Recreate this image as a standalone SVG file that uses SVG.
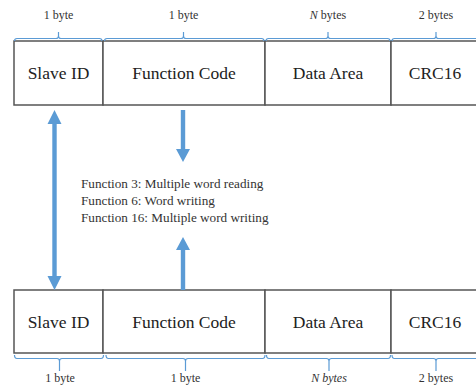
<svg xmlns="http://www.w3.org/2000/svg" width="476" height="385" viewBox="0 0 476 385">
<style>
.cell{fill:#fff;stroke:#555;stroke-width:1.5}
.ct{font-family:"Liberation Serif","Times New Roman",serif;font-size:17.5px;fill:#222;text-anchor:middle}
.lb{font-family:"Liberation Serif","Times New Roman",serif;font-size:12px;fill:#333;text-anchor:middle}
.fn{font-family:"Liberation Serif","Times New Roman",serif;font-size:13.2px;fill:#333}
.br{fill:none;stroke:#5b9bd5;stroke-width:1.2}
.ar{fill:#5b9bd5}
</style>
<rect width="476" height="385" fill="#fff"/>
<g id="top-frame">
<g id="top-slave"><rect class="cell" x="14" y="41" width="89" height="64"/><text class="ct" x="58.5" y="79">Slave ID</text></g>
<g id="top-func"><rect class="cell" x="103" y="41" width="162" height="64"/><text class="ct" x="184" y="79">Function Code</text></g>
<g id="top-data"><rect class="cell" x="265" y="41" width="126" height="64"/><text class="ct" x="328" y="79">Data Area</text></g>
<g id="top-crc"><rect class="cell" x="391" y="41" width="100" height="64"/><text class="ct" x="435" y="79">CRC16</text></g>
</g>
<g id="top-braces">
<path class="br" d="M14.5,41 Q14.5,38.5 17,38.5 H56 Q58.5,38.5 58.5,36 V32 M58.5,36 Q58.5,38.5 61,38.5 H99.5 Q102,38.5 102,41"/>
<path class="br" d="M104.5,41 Q104.5,38.5 107,38.5 H181 Q183.5,38.5 183.5,36 V32 M183.5,36 Q183.5,38.5 186,38.5 H261.5 Q264,38.5 264,41"/>
<path class="br" d="M266,41 Q266,38.5 268.5,38.5 H325.5 Q328,38.5 328,36 V32 M328,36 Q328,38.5 330.5,38.5 H387.5 Q390,38.5 390,41"/>
<path class="br" d="M392,41 Q392,38.5 394.5,38.5 H433.5 Q436,38.5 436,36 V32 M436,36 Q436,38.5 438.5,38.5 H480"/>
<text class="lb" x="58.5" y="19">1 byte</text>
<text class="lb" x="183.5" y="19">1 byte</text>
<text class="lb" x="328" y="19"><tspan font-style="italic">N</tspan> bytes</text>
<text class="lb" x="436" y="19">2 bytes</text>
</g>
<g id="bottom-frame">
<g id="bot-slave"><rect class="cell" x="14" y="290" width="89" height="63"/><text class="ct" x="58.5" y="328">Slave ID</text></g>
<g id="bot-func"><rect class="cell" x="103" y="290" width="162" height="63"/><text class="ct" x="184" y="328">Function Code</text></g>
<g id="bot-data"><rect class="cell" x="265" y="290" width="126" height="63"/><text class="ct" x="328" y="328">Data Area</text></g>
<g id="bot-crc"><rect class="cell" x="391" y="290" width="100" height="63"/><text class="ct" x="435" y="328">CRC16</text></g>
</g>
<g id="bottom-braces">
<path class="br" d="M14.5,355 Q14.5,358.5 17,358.5 H57 Q59.5,358.5 59.5,361 V371 M59.5,361 Q59.5,358.5 62,358.5 H101 Q103.5,358.5 103.5,355"/>
<path class="br" d="M106,355 Q106,358.5 108.5,358.5 H183 Q185.5,358.5 185.5,361 V371 M185.5,361 Q185.5,358.5 188,358.5 H262.5 Q265,358.5 265,355"/>
<path class="br" d="M266.5,355 Q266.5,358.5 269,358.5 H326.5 Q329,358.5 329,361 V371 M329,361 Q329,358.5 331.5,358.5 H388 Q390.5,358.5 390.5,355"/>
<path class="br" d="M392,355 Q392,358.5 394.5,358.5 H433.5 Q436,358.5 436,361 V371 M436,361 Q436,358.5 438.5,358.5 H480"/>
<text class="lb" x="60" y="382">1 byte</text>
<text class="lb" x="185.5" y="382">1 byte</text>
<text class="lb" x="329" y="382" font-style="italic">N bytes</text>
<text class="lb" x="436" y="382">2 bytes</text>
</g>
<g id="connectors">
<path class="ar" d="M54.5,110 L61.5,124 H56.7 V276 H61.5 L54.5,290 L47.5,276 H52.3 V124 H47.5 Z"/>
<path class="ar" d="M180.8,110 H185.2 V149 H190 L183,162 L176,149 H180.8 Z"/>
<path class="ar" d="M183,237 L190,250 H185.2 V290 H180.8 V250 H176 Z"/>
</g>
<g id="function-list">
<text class="fn" x="81" y="188">Function 3: Multiple word reading</text>
<text class="fn" x="81" y="205">Function 6: Word writing</text>
<text class="fn" x="81" y="222">Function 16: Multiple word writing</text>
</g>
</svg>
